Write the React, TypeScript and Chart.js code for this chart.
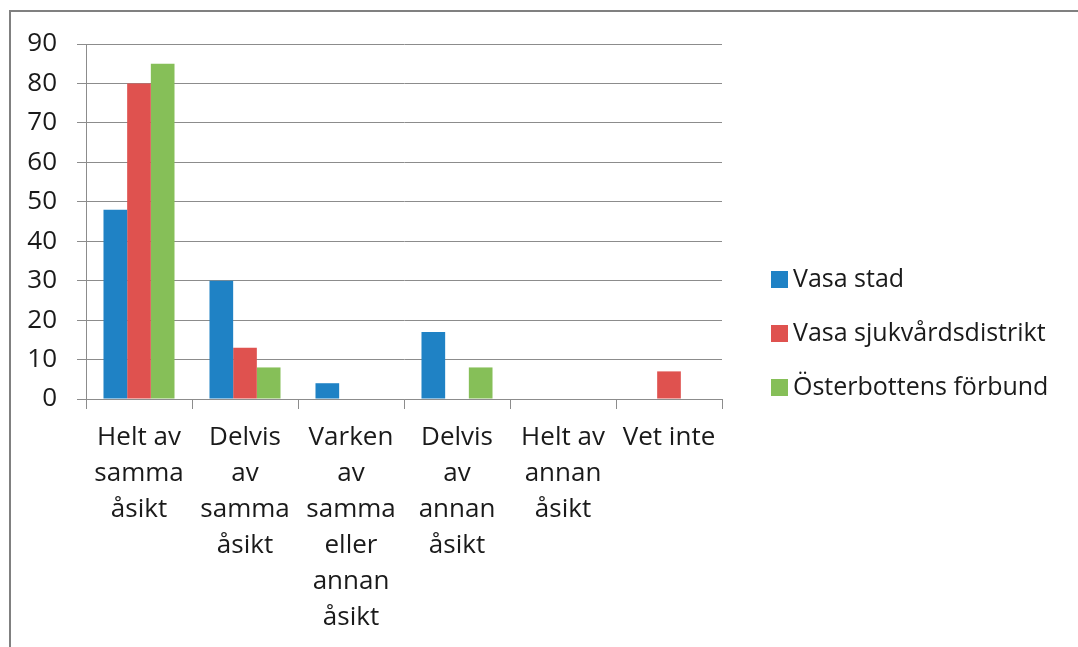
import React, { useEffect, useRef } from "react";
import { Chart, registerables } from "chart.js";

Chart.register(...registerables);

const categories: string[][] = [
  ["Helt av", "samma", "åsikt"],
  ["Delvis", "av", "samma", "åsikt"],
  ["Varken", "av", "samma", "eller", "annan", "åsikt"],
  ["Delvis", "av", "annan", "åsikt"],
  ["Helt av", "annan", "åsikt"],
  ["Vet inte"],
];

const seriesNames = ["Vasa stad", "Vasa sjukvårdsdistrikt", "Österbottens förbund"];
const vasaStad = [48, 30, 4, 17, 0, 0];
const vasaSjukvard = [80, 13, 0, 0, 0, 7];
const osterbotten = [85, 8, 0, 8, 0, 0];
const colors = ["#1F82C5", "#DF524F", "#86BF58"];
const yTicks = [0, 10, 20, 30, 40, 50, 60, 70, 80, 90];

const FONT = "'Open Sans', 'Noto Sans', sans-serif";
const TEXT = "#1a1a1a";
const GRID = "#8c8c8c";

const legendPlugin = {
  id: "sideLegend",
  afterDraw(chart: any) {
    const ctx = chart.ctx;
    const x = chart.chartArea.right + 49;
    const y0 = 279;
    const step = 54;
    ctx.save();
    ctx.font = `25px ${FONT}`;
    ctx.textBaseline = "middle";
    ctx.textAlign = "left";
    chart.data.datasets.forEach((ds: any, i: number) => {
      const y = y0 + i * step;
      ctx.fillStyle = ds.backgroundColor;
      ctx.fillRect(x, y - 8, 17, 17);
      ctx.fillStyle = TEXT;
      ctx.fillText(ds.label, x + 22, y + 1);
    });
    ctx.restore();
  },
};

export default function App() {
  const ref = useRef<HTMLCanvasElement | null>(null);
  useEffect(() => {
    if (!ref.current) return;
    const chart = new Chart(ref.current, {
      type: "bar",
      data: {
        labels: categories,
        datasets: [
          { label: seriesNames[0], data: vasaStad, backgroundColor: colors[0] },
          { label: seriesNames[1], data: vasaSjukvard, backgroundColor: colors[1] },
          { label: seriesNames[2], data: osterbotten, backgroundColor: colors[2] },
        ],
      },
      options: {
        responsive: false,
        animation: false,
        events: [],
        layout: { padding: { left: 0, right: 356, top: 44, bottom: 0 } },
        datasets: {
          bar: { categoryPercentage: 0.67, barPercentage: 1, borderWidth: 0 },
        },
        plugins: { legend: { display: false }, tooltip: { enabled: false } },
        scales: {
          x: {
            grid: {
              display: true,
              drawOnChartArea: false,
              drawTicks: true,
              tickLength: 10,
              color: GRID,
              offset: true,
            },
            border: { display: true, color: GRID },
            ticks: {
              color: TEXT,
              font: { family: FONT, size: 26, lineHeight: 36 / 26 },
              padding: 11,
              maxRotation: 0,
              autoSkip: false,
            },
            afterFit(scale: any) {
              scale.height = 248;
            },
          },
          y: {
            min: 0,
            max: 90,
            afterBuildTicks(scale: any) {
              scale.ticks = yTicks.map((v) => ({ value: v }));
            },
            grid: { color: GRID, tickLength: 9, drawTicks: true },
            border: { display: true, color: GRID },
            ticks: {
              color: TEXT,
              font: { family: FONT, size: 26 },
              padding: 20,
            },
            afterFit(scale: any) {
              scale.width = 86;
            },
          },
        },
      },
      plugins: [legendPlugin],
    });
    return () => chart.destroy();
  }, []);

  return (
    <div
      style={{
        position: "fixed",
        left: 0,
        top: 0,
        width: 1078,
        height: 647,
        background: "#ffffff",
        overflow: "hidden",
      }}
    >
      <div
        style={{
          position: "absolute",
          left: 9,
          top: 10,
          width: 2000,
          height: 2000,
          borderLeft: "2px solid #808080",
          borderTop: "2px solid #808080",
        }}
      />
      <canvas
        ref={ref}
        width={1078}
        height={647}
        style={{ position: "absolute", left: 0, top: 0, width: 1078, height: 647 }}
      />
    </div>
  );
}
